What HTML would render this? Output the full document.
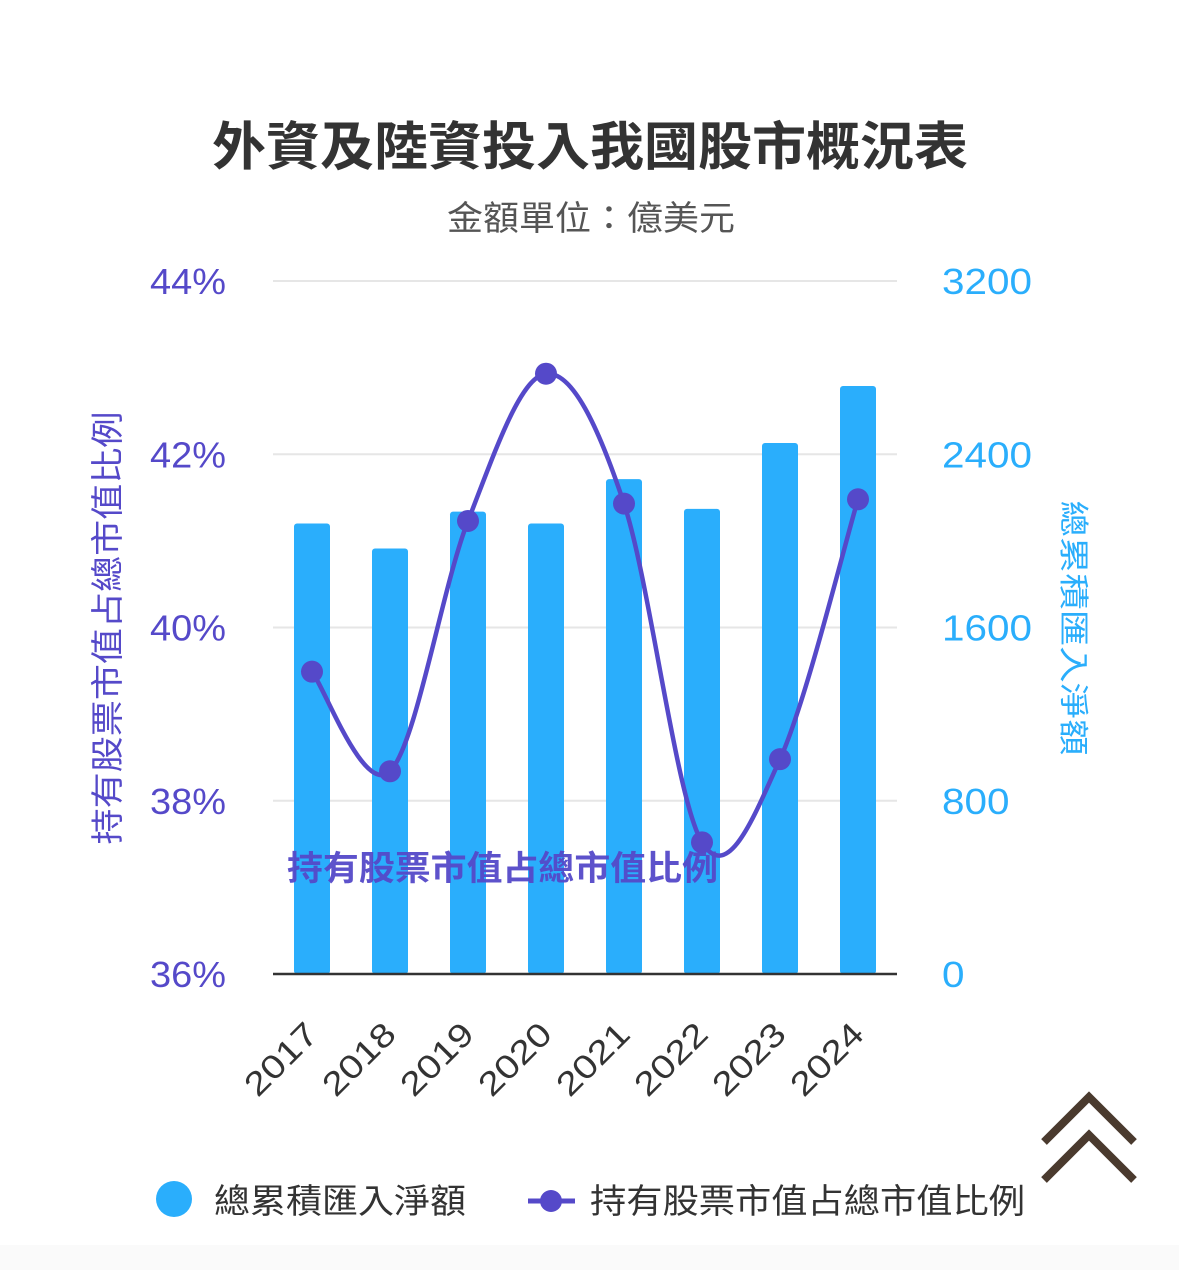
<!DOCTYPE html>
<html><head><meta charset="utf-8">
<style>
body{margin:0;background:#fff;}
svg{display:block;font-family:"Liberation Sans","Noto Sans CJK TC",sans-serif;}
</style></head>
<body>
<svg id="chart" width="1179" height="1270" viewBox="0 0 1179 1270">
<rect x="0" y="1245" width="1179" height="25" fill="#fafafa"/>
<text x="212" y="165" font-size="52" font-weight="bold" fill="#333" textLength="756" lengthAdjust="spacingAndGlyphs">外資及陸資投入我國股市概況表</text>
<text x="447" y="230" font-size="34" fill="#555" textLength="288" lengthAdjust="spacingAndGlyphs">金額單位：億美元</text>
<g id="grid"></g>
<g id="bars"></g>
<text x="287" y="880" font-size="34" font-weight="bold" fill="#5549c9" opacity="0.95" textLength="431" lengthAdjust="spacingAndGlyphs">持有股票市值占總市值比例</text>
<g id="line"></g>
<g id="axes"></g>
<text transform="translate(119,628) rotate(-90)" text-anchor="middle" font-size="33" fill="#5549c9" textLength="433" lengthAdjust="spacingAndGlyphs">持有股票市值占總市值比例</text>
<text transform="translate(1063,628) rotate(90)" text-anchor="middle" font-size="30" fill="#2aaefc" textLength="255" lengthAdjust="spacingAndGlyphs">總累積匯入淨額</text>
<g fill="none" stroke="#4a3a2e" stroke-width="8">
<polyline points="1044,1142 1089,1097 1134,1142"/>
<polyline points="1044,1180 1089,1135 1134,1180"/>
</g>
<g>
<g>
<circle cx="174" cy="1199" r="18" fill="#2aaefc"/>
<text x="214" y="1213" font-size="34" fill="#333" textLength="252" lengthAdjust="spacingAndGlyphs">總累積匯入淨額</text>
</g>
<g>
<line x1="528" y1="1201" x2="575" y2="1201" stroke="#5549c9" stroke-width="5"/>
<circle cx="551" cy="1201" r="11" fill="#5549c9"/>
<text x="590" y="1213" font-size="34" fill="#333" textLength="435" lengthAdjust="spacingAndGlyphs">持有股票市值占總市值比例</text>
</g>
</g>
</svg>
<script>
const categories=["2017","2018","2019","2020","2021","2022","2023","2024"];
const inflowValues=[2080,1965,2135,2080,2285,2148,2452,2715];
const ratioValues=[39.49,38.34,41.23,42.93,41.43,37.52,38.48,41.48];
const leftTicks=[36,38,40,42,44];
const rightTicks=[0,800,1600,2400,3200];
const NS="http://www.w3.org/2000/svg";
const L=273,R=897,T=281,B=974;
const band=(R-L)/categories.length;
const xC=i=>L+band*(i+0.5);
const yR=v=>B-(v/3200)*(B-T);
const yL=v=>B-((v-36)/8)*(B-T);
function mk(tag,attrs,parent){const e=document.createElementNS(NS,tag);for(const k in attrs)e.setAttribute(k,attrs[k]);parent.appendChild(e);return e;}
const grid=document.getElementById('grid'),axes=document.getElementById('axes'),bars=document.getElementById('bars'),line=document.getElementById('line');
leftTicks.forEach((t,i)=>{
 const y=yL(t);
 if(i>0){const g=mk('line',{x1:L,x2:R,y1:y,y2:y,stroke:'#e6e6e6','stroke-width':2},grid);
 
 }
 const tx=mk('text',{x:150,y:y+13,'font-size':36,fill:'#5549c9',textLength:76,lengthAdjust:'spacingAndGlyphs'},axes);tx.textContent=t+'%';
 
 
});
rightTicks.forEach(t=>{
 const tx=mk('text',{x:942,y:yR(t)+13,'font-size':36,fill:'#2aaefc',textLength:String(t).length*22.5,lengthAdjust:'spacingAndGlyphs'},axes);tx.textContent=t;
 
 
});
const base=mk('line',{x1:L,x2:R,y1:B,y2:B,stroke:'#333','stroke-width':2.5},axes);


categories.forEach((c,i)=>{
 const b=mk('rect',{x:xC(i)-18,y:yR(inflowValues[i]),width:36,height:B-yR(inflowValues[i]),fill:'#2aaefc',rx:3},bars);
 
 
 const tx=mk('text',{transform:`translate(${xC(i)+8},${B+62}) rotate(-45)`,'text-anchor':'end','font-size':33,fill:'#333',textLength:88,lengthAdjust:'spacingAndGlyphs'},axes);tx.textContent=c;
 
 
});
const pts=ratioValues.map((v,i)=>[xC(i),yL(v)]);
let d=`M${pts[0][0]},${pts[0][1]}`;
for(let i=0;i<pts.length-1;i++){
 const p0=pts[Math.max(0,i-1)],p1=pts[i],p2=pts[i+1],p3=pts[Math.min(pts.length-1,i+2)];
 const c1=[p1[0]+(p2[0]-p0[0])/6,p1[1]+(p2[1]-p0[1])/6];
 const c2=[p2[0]-(p3[0]-p1[0])/6,p2[1]-(p3[1]-p1[1])/6];
 d+=` C${c1[0]},${c1[1]} ${c2[0]},${c2[1]} ${p2[0]},${p2[1]}`;
}
const path=mk('path',{d:d,fill:'none',stroke:'#5549c9','stroke-width':4.5},line);


pts.forEach((p,i)=>{
 const c=mk('circle',{cx:p[0],cy:p[1],r:11,fill:'#5549c9'},line);
 
 
});
</script>
</body></html>
